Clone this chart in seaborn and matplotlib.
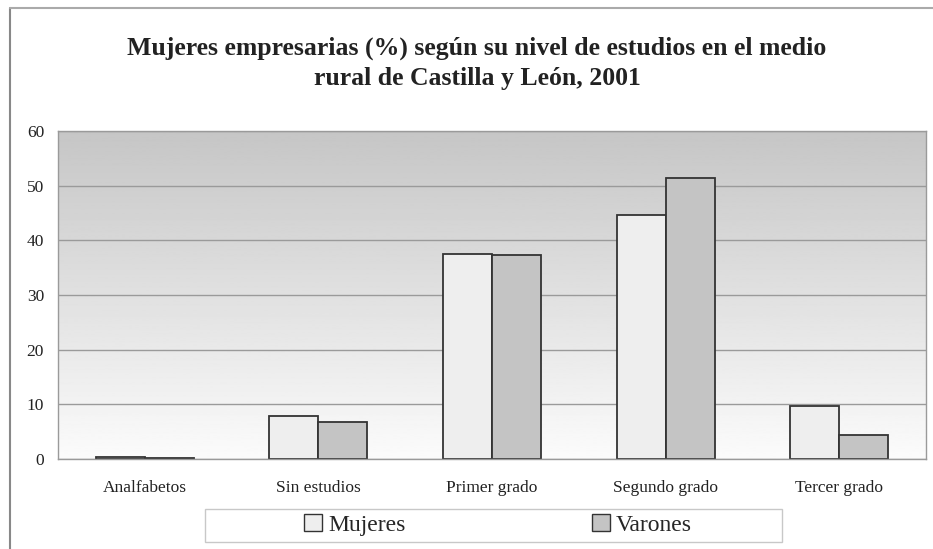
import numpy as np
import pandas as pd
import seaborn as sns
import matplotlib.pyplot as plt
from matplotlib.lines import Line2D
from matplotlib.patches import Patch, Rectangle

sns.set_theme(style="white")
plt.rcParams["font.family"] = ["Liberation Serif", "DejaVu Serif"]

# datos
categorias = ["Analfabetos", "Sin estudios", "Primer grado", "Segundo grado", "Tercer grado"]
mujeres = [0.3, 7.9, 37.5, 44.6, 9.7]
varones = [0.2, 6.8, 37.3, 51.4, 4.4]
series = ["Mujeres", "Varones"]
colores = {"Mujeres": "#eeeeee", "Varones": "#c4c4c4"}

df = pd.DataFrame({
    "nivel": categorias * 2,
    "valor": mujeres + varones,
    "sexo": ["Mujeres"] * 5 + ["Varones"] * 5,
})

W, H = 933, 549
fig = plt.figure(figsize=(9.33, 5.49), dpi=100)
ax = fig.add_axes([58 / W, 1 - 459 / H, 868 / W, 328 / H])

# fondo degradado del area de trazado
grad = np.linspace(0.985, 0.775, 256).reshape(-1, 1)
ax.imshow(grad, cmap="gray", vmin=0, vmax=1, aspect="auto",
          extent=[-0.5, 4.5, 0, 60], origin="lower", zorder=0)

sns.barplot(data=df, x="nivel", y="valor", hue="sexo", hue_order=series,
            palette=colores, width=0.565, edgecolor="#333333", linewidth=1.3,
            saturation=1, gap=0, legend=False, ax=ax, zorder=3)

ax.set_xlim(-0.5, 4.5)
ax.set_ylim(0, 60)
ax.set_yticks(range(0, 61, 10))
ax.yaxis.grid(True, color="#9a9a9a", linewidth=1)
ax.set_axisbelow(False)
for gl in ax.get_ygridlines():
    gl.set_zorder(1)
ax.set_xlabel("")
ax.set_ylabel("")
for s in ax.spines.values():
    s.set_color("#9a9a9a")
    s.set_linewidth(1)
    s.set_zorder(4)

ax.tick_params(axis="x", which="major", length=0, pad=15, labelsize=12.5, colors="#222222")
ax.set_xticks(np.arange(-0.5, 4.6, 1), minor=True)
ax.tick_params(axis="x", which="minor", length=5, color="#9a9a9a", direction="out")
ax.tick_params(axis="y", length=5, color="#9a9a9a", direction="out", pad=5,
               labelsize=12.5, colors="#222222")

fig.text(477 / W, 1 - 48 / H, "Mujeres empresarias (%) según su nivel de estudios en el medio",
         ha="center", va="center", fontsize=18.5, fontweight="bold", color="#222222")
fig.text(477 / W, 1 - 79 / H, "rural de Castilla y León, 2001",
         ha="center", va="center", fontsize=18.5, fontweight="bold", color="#222222")

# caja de la leyenda
fig.add_artist(Rectangle((205 / W, 1 - 542 / H), 577 / W, 33 / H, transform=fig.transFigure,
                         facecolor="white", edgecolor="#c8c8c8", linewidth=1, zorder=5))
handles = [Patch(facecolor=colores[s], edgecolor="#333333", linewidth=1) for s in series]
leg = fig.legend(handles, series, loc="center", bbox_to_anchor=(498 / W, 1 - 525 / H),
                 ncol=2, frameon=False, fontsize=17, columnspacing=7.9,
                 handlelength=0.75, handleheight=0.75, handletextpad=0.25,
                 borderpad=0, borderaxespad=0)
leg.set_zorder(6)

# marco exterior
fig.add_artist(Line2D([9.5 / W, 9.5 / W], [0, 1 - 8 / H], transform=fig.transFigure,
                      color="#888888", linewidth=1.5))
fig.add_artist(Line2D([9.5 / W, 1], [1 - 8 / H, 1 - 8 / H], transform=fig.transFigure,
                      color="#aaaaaa", linewidth=1.5))

fig.savefig("out.png", dpi=100)
